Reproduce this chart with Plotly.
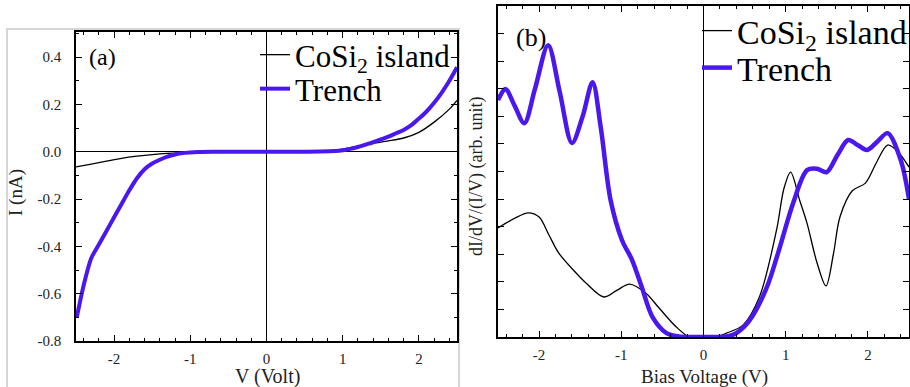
import plotly.graph_objects as go

# ---------------- data ----------------
# Panel (a): I-V curves
va_island = [-2.5, -2.3, -2.1, -1.9, -1.7, -1.5, -1.3, -1.1, -0.9, -0.6, -0.3, 0.0, 0.3, 0.6,
             0.8, 1.0, 1.2, 1.4, 1.6, 1.8, 2.0, 2.2, 2.4, 2.5]
ia_island = [-0.064, -0.052, -0.040, -0.028, -0.019, -0.012, -0.007, -0.004, -0.002, -0.0005, 0.0, 0.0, 0.0, 0.001,
             0.004, 0.011, 0.024, 0.036, 0.046, 0.058, 0.082, 0.125, 0.18, 0.217]

va_trench = [-2.49, -2.4, -2.3, -2.2, -2.1, -2.0, -1.9, -1.8, -1.7, -1.6, -1.5, -1.4, -1.3, -1.2, -1.1,
             -1.0, -0.9, -0.7, -0.4, 0.0, 0.4, 0.7, 0.9, 1.0, 1.1, 1.2, 1.3, 1.4, 1.5, 1.6, 1.7,
             1.8, 1.9, 2.0, 2.1, 2.2, 2.3, 2.4, 2.5]
ia_trench = [-0.70, -0.565, -0.45, -0.392, -0.335, -0.277, -0.22, -0.163, -0.112, -0.074, -0.050, -0.034, -0.021, -0.012, -0.006,
             -0.003, -0.001, 0.0, 0.0, 0.0, 0.0, 0.001, 0.003, 0.006, 0.012, 0.02, 0.03, 0.04, 0.052, 0.064, 0.078,
             0.092, 0.112, 0.14, 0.17, 0.207, 0.25, 0.30, 0.357]

# Panel (b): normalized conductance
vb_island = [-2.5, -2.3, -2.13, -2.0, -1.88, -1.76, -1.55, -1.43, -1.21, -1.05, -0.90, -0.70, -0.54, -0.33,
             -0.17, 0.0, 0.15, 0.28, 0.48, 0.68, 0.89, 0.98, 1.06, 1.17, 1.26, 1.38, 1.49, 1.58, 1.66,
             1.81, 1.97, 2.1, 2.24, 2.37, 2.5]
gb_island = [3.95, 4.3, 4.5, 4.35, 3.7, 3.04, 2.32, 1.96, 1.45, 1.7, 1.92, 1.59, 1.05, 0.36,
             0.0, 0.0, 0.0, 0.14, 0.43, 1.45, 3.9, 5.4, 5.98, 4.96, 4.12, 2.7, 1.85, 3.0, 4.35,
             5.3, 5.58, 6.3, 6.96, 6.7, 6.16]

vb_trench = [-2.5, -2.41, -2.3, -2.18, -2.05, -1.89, -1.75, -1.60, -1.47, -1.35, -1.25, -1.13, -0.99,
             -0.87, -0.75, -0.62, -0.45, -0.3, -0.15, 0.0, 0.15, 0.3, 0.40, 0.56, 0.77, 0.93, 1.09,
             1.26, 1.38, 1.50, 1.63, 1.76, 1.88, 1.99, 2.12, 2.24, 2.40, 2.5]
gb_trench = [8.59, 8.99, 8.4, 7.75, 9.0, 10.58, 8.9, 7.03, 8.0, 9.24, 7.6, 4.96, 3.5,
             2.8, 1.8, 0.72, 0.14, 0.02, 0.0, 0.0, 0.0, 0.03, 0.14, 0.6, 1.8, 3.27, 4.85,
             6.05, 6.1, 5.98, 6.6, 7.14, 6.95, 6.78, 7.1, 7.39, 6.41, 5.0]

# tick labels
x_tickvals = [-2, -1, 0, 1, 2]
x_ticktext = ["-2", "-1", "0", "1", "2"]
ya_tickvals = [-0.8, -0.6, -0.4, -0.2, 0.0, 0.2, 0.4]
ya_ticktext = ["-0.8", "-0.6", "-0.4", "-0.2", "0.0", "0.2", "0.4"]

BLUE = "#4a18ee"
FONT = "Liberation Serif"
W, H = 910, 387

def px(x):
    return x / W

def py(y):
    return 1 - y / H

fig = go.Figure()
fig.add_trace(go.Scatter(x=va_island, y=ia_island, mode="lines", name="CoSi<sub>2</sub> island",
                         line=dict(color="black", width=1.3, shape="spline", smoothing=0.8),
                         xaxis="x", yaxis="y", legend="legend", showlegend=True))
fig.add_trace(go.Scatter(x=va_trench, y=ia_trench, mode="lines", name="Trench",
                         line=dict(color=BLUE, width=4, shape="spline", smoothing=0.8),
                         xaxis="x", yaxis="y", legend="legend2", showlegend=True))
fig.add_trace(go.Scatter(x=vb_island, y=gb_island, mode="lines", name="CoSi<sub>2</sub> island",
                         line=dict(color="black", width=1.3, shape="spline", smoothing=0.9),
                         xaxis="x2", yaxis="y2", legend="legend3", showlegend=True))
fig.add_trace(go.Scatter(x=vb_trench, y=gb_trench, mode="lines", name="Trench",
                         line=dict(color=BLUE, width=4.5, shape="spline", smoothing=0.9),
                         xaxis="x2", yaxis="y2", legend="legend4", showlegend=True))

common_axis = dict(showline=True, linecolor="black", linewidth=1.5, mirror="ticks",
                   ticks="inside", ticklen=6, tickwidth=1.2, tickcolor="black",
                   showgrid=False, tickfont=dict(family=FONT, size=15, color="#222"))


def leg(x, y, size):
    return dict(x=px(x), y=py(y), xanchor="left", yanchor="middle",
                bgcolor="rgba(0,0,0,0)", borderwidth=0,
                font=dict(family=FONT, size=size, color="black"),
                itemwidth=30, tracegroupgap=0)


fig.update_layout(
    width=W, height=H, margin=dict(l=0, r=0, t=0, b=0, autoexpand=False),
    paper_bgcolor="white", plot_bgcolor="white", showlegend=True,
    font=dict(family=FONT, color="black"),
    xaxis=dict(domain=[px(76), px(457)], range=[-2.5, 2.5], anchor="y",
               tickvals=x_tickvals, ticktext=x_ticktext,
               zeroline=True, zerolinecolor="black", zerolinewidth=1.3,
               minor=dict(dtick=0.2, ticks="inside", ticklen=3, tickcolor="black"),
               ticklabelstandoff=3, **common_axis),
    yaxis=dict(domain=[py(341), py(32)], range=[-0.8, 0.506], anchor="x",
               tickvals=ya_tickvals, ticktext=ya_ticktext,
               zeroline=True, zerolinecolor="black", zerolinewidth=1.3,
               minor=dict(dtick=0.1, tick0=0, ticks="inside", ticklen=3, tickcolor="black"),
               ticklabelstandoff=10, **common_axis),
    xaxis2=dict(domain=[px(498), px(909)], range=[-2.5, 2.5], anchor="y2",
                tickvals=x_tickvals, ticktext=x_ticktext,
                zeroline=True, zerolinecolor="black", zerolinewidth=1.3,
                minor=dict(dtick=0.2, ticks="inside", ticklen=3, tickcolor="black"),
                ticklabelstandoff=3, **common_axis),
    yaxis2=dict(domain=[py(337), py(6)], range=[0, 12], anchor="x2",
                dtick=1, showticklabels=False, zeroline=False, **common_axis),
    legend=leg(255, 55, 31),
    legend2=leg(255, 89, 31),
    legend3=leg(697, 31, 34),
    legend4=leg(697, 68, 34),
    shapes=[dict(type="rect", xref="paper", yref="paper",
                 x0=px(7), x1=px(459), y0=-0.05, y1=py(29),
                 line=dict(color="#d6d6d6", width=2), layer="below")],
    annotations=[
        dict(text="(a)", x=px(87), y=py(57), xref="paper", yref="paper", xanchor="left",
             yanchor="middle", showarrow=False, font=dict(family=FONT, size=24, color="black")),
        dict(text="(b)", x=px(514), y=py(38), xref="paper", yref="paper", xanchor="left",
             yanchor="middle", showarrow=False, font=dict(family=FONT, size=26, color="black")),
        dict(text="V (Volt)", x=px(267), y=py(376), xref="paper", yref="paper", xanchor="center",
             yanchor="middle", showarrow=False, font=dict(family=FONT, size=20, color="#222")),
        dict(text="I (nA)", x=px(16), y=py(193), xref="paper", yref="paper", xanchor="center",
             yanchor="middle", textangle=-90, showarrow=False, font=dict(family=FONT, size=19, color="#222")),
        dict(text="Bias Voltage (V)", x=px(704), y=py(377), xref="paper", yref="paper", xanchor="center",
             yanchor="middle", showarrow=False, font=dict(family=FONT, size=19, color="#222")),
        dict(text="dI/dV/(I/V) (arb. unit)", x=px(477), y=py(177), xref="paper", yref="paper",
             xanchor="center", yanchor="middle", textangle=-90, showarrow=False,
             font=dict(family=FONT, size=18, color="#222")),
    ],
)

fig.write_html("out.html", config={"displayModeBar": False},
               post_script="document.body.style.margin='0px';document.body.style.overflow='hidden';")
